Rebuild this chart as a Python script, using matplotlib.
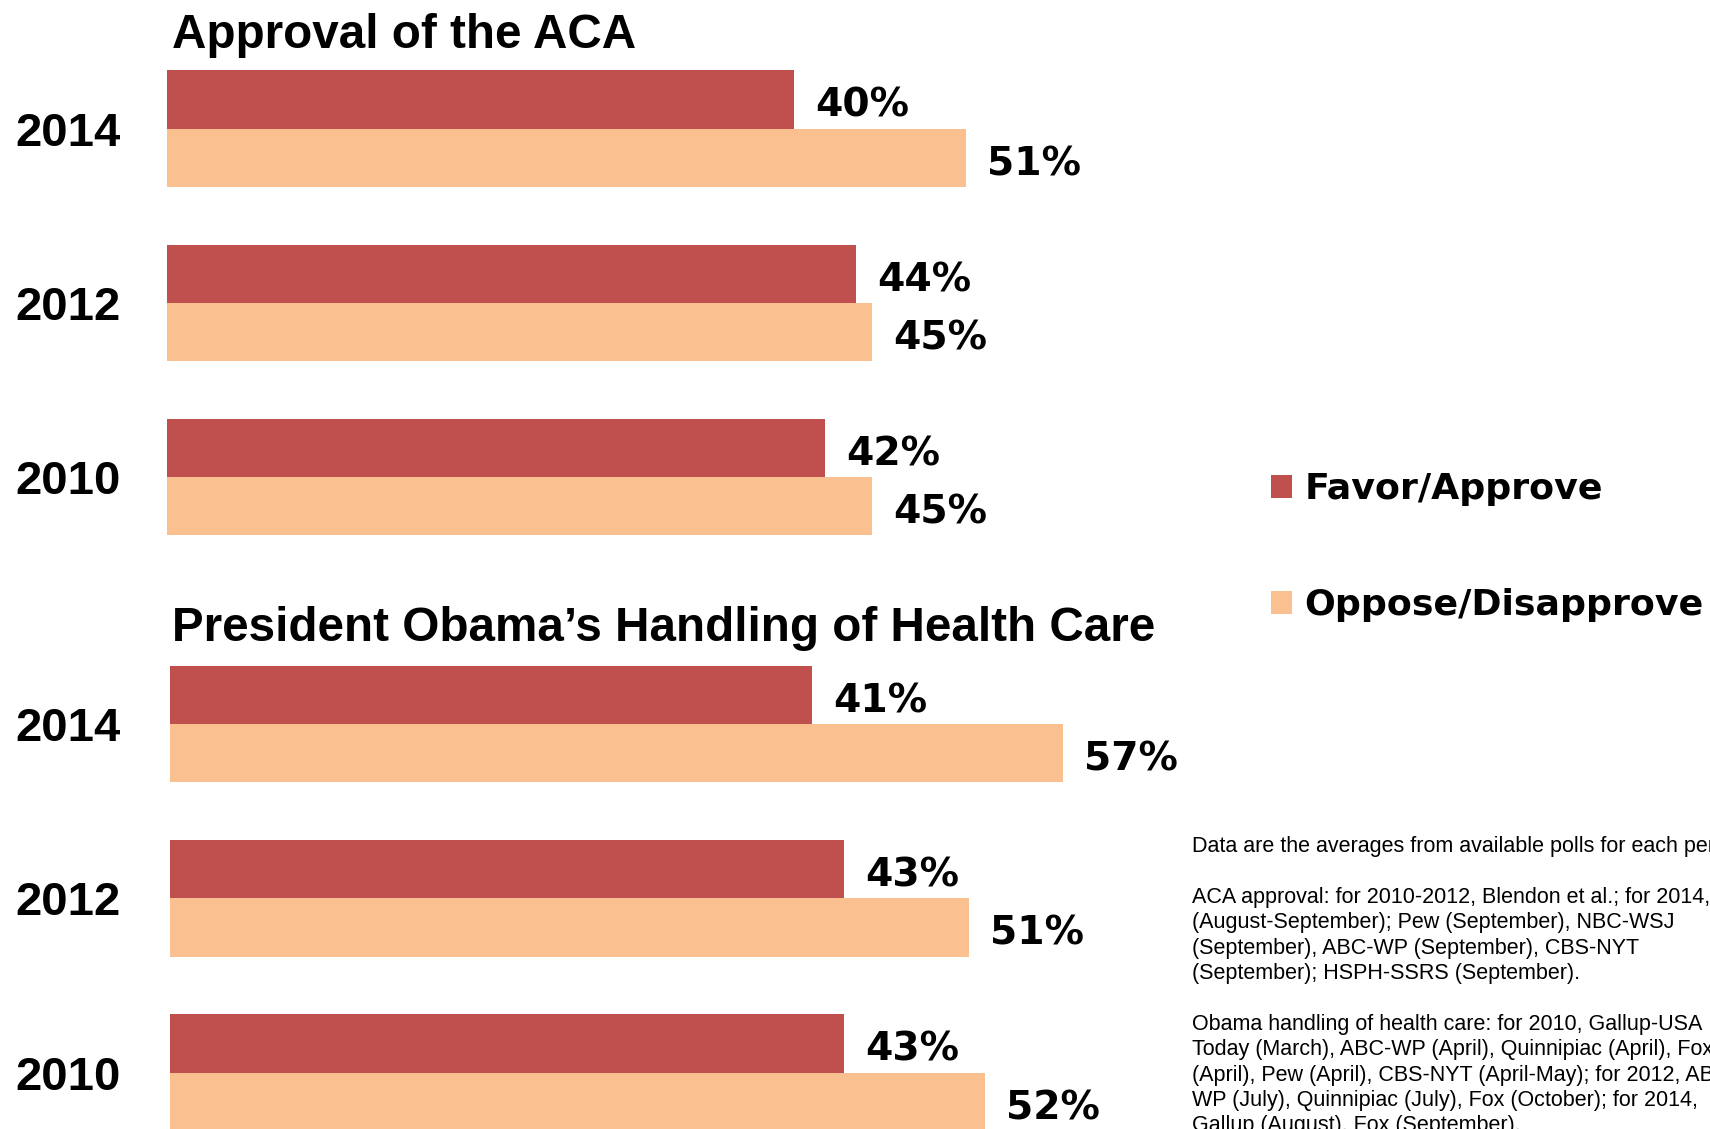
import matplotlib
matplotlib.use("Agg")
from matplotlib import pyplot as plt
from matplotlib.patches import Patch
from matplotlib.transforms import blended_transform_factory
import numpy as np

# poll data
years = ["2014", "2012", "2010"]
aca_favor = [40, 44, 42]
aca_oppose = [51, 45, 45]
obama_approve = [41, 43, 43]
obama_disapprove = [57, 51, 52]

titles = ["Approval of the ACA", "President Obama\u2019s Handling of Health Care"]
legend_labels = ["Favor/Approve", "Oppose/Disapprove"]

note_lines = [
    "Data are the averages from available polls for each period.",
    "",
    "ACA approval: for 2010-2012, Blendon et al.; for 2014, Gallup",
    "(August-September); Pew (September), NBC-WSJ",
    "(September), ABC-WP (September), CBS-NYT",
    "(September); HSPH-SSRS (September).",
    "",
    "Obama handling of health care: for 2010, Gallup-USA",
    "Today (March), ABC-WP (April), Quinnipiac (April), Fox",
    "(April), Pew (April), CBS-NYT (April-May); for 2012, ABC-",
    "WP (July), Quinnipiac (July), Fox (October); for 2014,",
    "Gallup (August), Fox (September).",
]

RED = "#C0504D"
ORANGE = "#FAC090"

W, H = 1710, 1129
fig = plt.figure(figsize=(W / 100, H / 100), dpi=100)

# layout in pixels
group_step = 174.3
px_per_pct = 15.67
xmax = 60
bar_h = 58.3 / group_step
lab_dy = 2.5 / group_step  # value labels sit a touch below the bar centre


def panel(left_px, top_px, favor, oppose, title, title_base_px, title_x_px):
    ax = fig.add_axes([left_px / W, 1 - (top_px + 3 * group_step) / H,
                       xmax * px_per_pct / W, 3 * group_step / H])
    y = np.arange(len(years))
    ax.barh(y - bar_h / 2, favor, height=bar_h, color=RED, linewidth=0)
    ax.barh(y + bar_h / 2, oppose, height=bar_h, color=ORANGE, linewidth=0)
    ax.set_xlim(0, xmax)
    ax.set_ylim(2.5, -0.5)
    ax.axis("off")
    for i in range(len(years)):
        ax.text(favor[i] + 1.35, y[i] - bar_h / 2 + lab_dy, f"{favor[i]}%",
                family="DejaVu Sans", weight="bold", fontsize=28.3,
                va="center_baseline", ha="left")
        ax.text(oppose[i] + 1.35, y[i] + bar_h / 2 + lab_dy, f"{oppose[i]}%",
                family="DejaVu Sans", weight="bold", fontsize=28.3,
                va="center_baseline", ha="left")
    trans = blended_transform_factory(fig.transFigure, ax.transData)
    for i, yr in enumerate(years):
        ax.text(15 / W, y[i], yr, transform=trans, family="Liberation Sans",
                weight="bold", fontsize=34, va="center_baseline", ha="left")
    fig.text(title_x_px / W, 1 - title_base_px / H, title,
             family="Liberation Sans", weight="bold", fontsize=34.3,
             va="baseline", ha="left")
    return ax


panel(167, 128.5 - group_step / 2, aca_favor, aca_oppose, titles[0], 48, 172)
panel(170, 724 - group_step / 2, obama_approve, obama_disapprove, titles[1], 641, 172)

handles = [Patch(facecolor=RED, linewidth=0), Patch(facecolor=ORANGE, linewidth=0)]
fig.legend(handles, legend_labels, loc="center left",
           bbox_to_anchor=(1271 / W, 1 - 547 / H), frameon=False,
           prop={"family": "DejaVu Sans", "weight": "bold", "size": 26.2},
           handlelength=0.59, handleheight=0.59, handletextpad=0.33,
           labelspacing=2.25, borderpad=0, borderaxespad=0)

for i, line in enumerate(note_lines):
    fig.text(1192 / W, 1 - (846.5 + i * 25.4) / H, line,
             family="Liberation Sans", fontsize=15.5, va="center", ha="left")

fig.savefig("out.png", dpi=100)
